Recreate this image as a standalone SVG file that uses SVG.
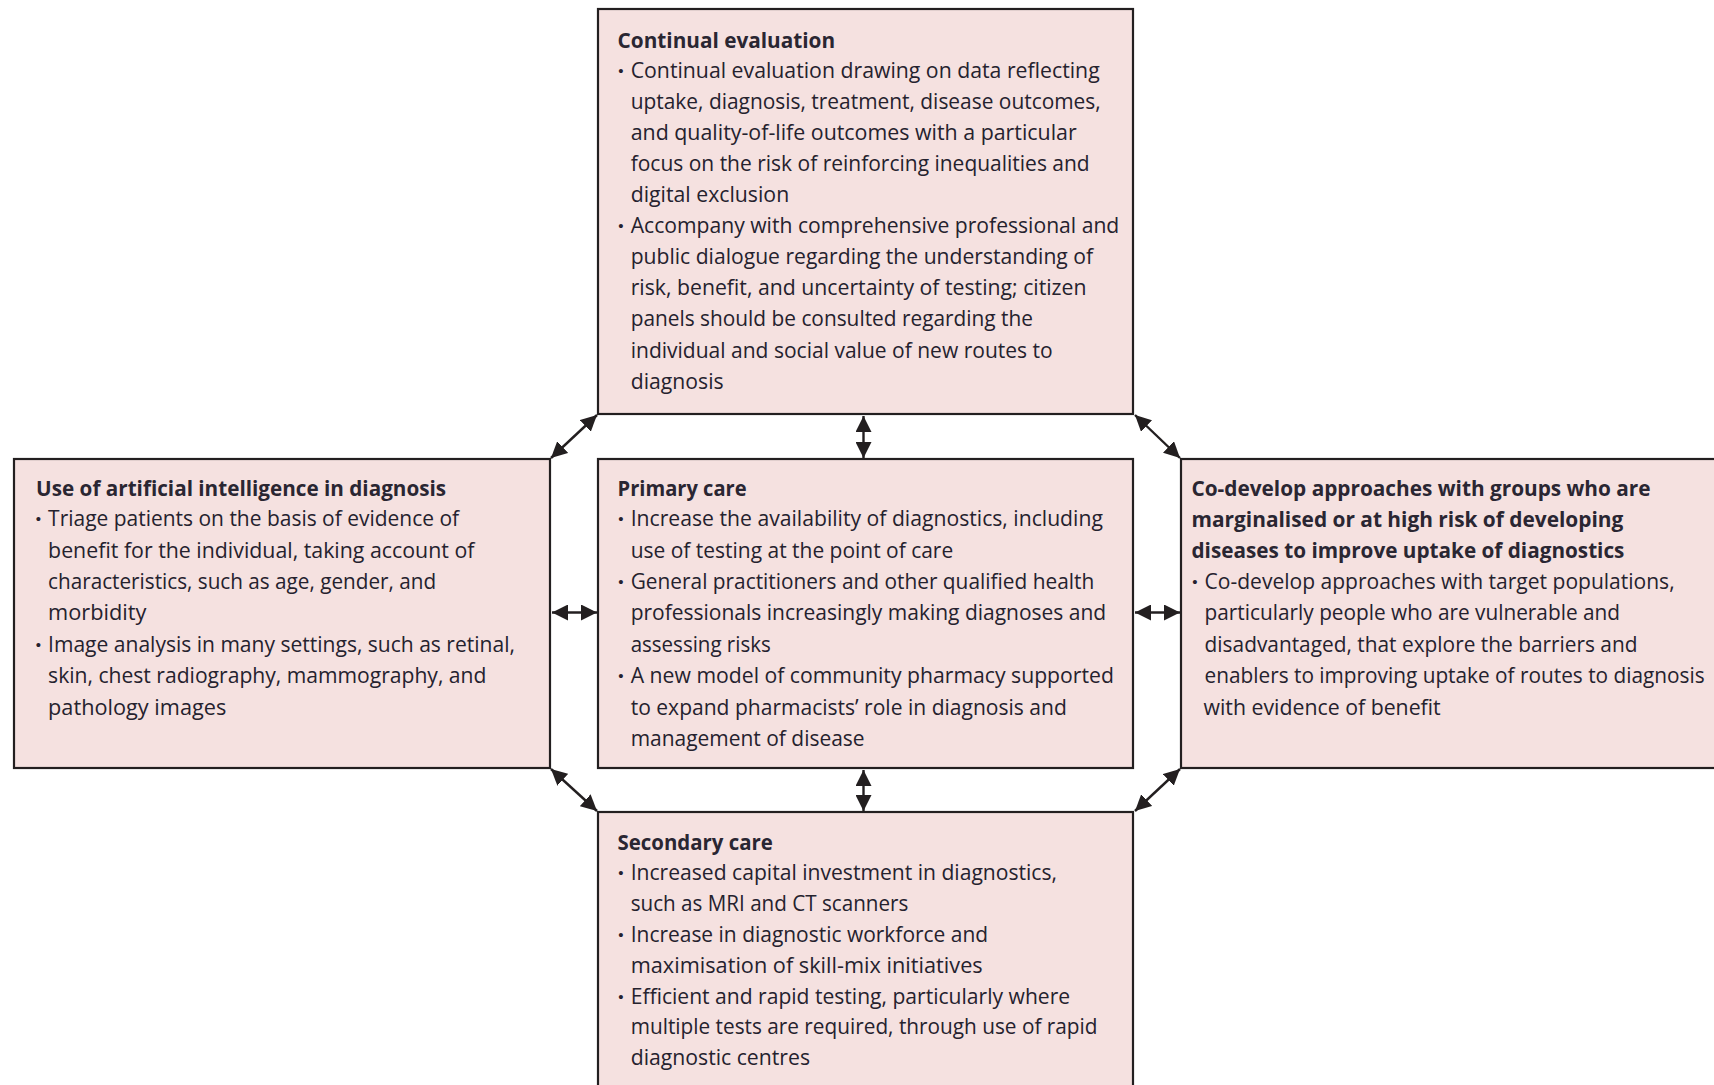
<svg xmlns="http://www.w3.org/2000/svg" width="1714" height="1085" viewBox="0 0 1714 1085">
<defs>
<style>
.box{fill:#F5E1E0;stroke:#231F20;stroke-width:2.2}
.t{font-family:"Open Sans","Noto Sans","Liberation Sans",sans-serif;font-size:22px;fill:#25222E}
.h{font-family:"Open Sans","Noto Sans","Liberation Sans",sans-serif;font-size:22px;font-weight:bold;fill:#2A2632}
.b{font-family:"Liberation Sans",sans-serif;font-size:15px;fill:#25222E;text-anchor:middle}
.c{stroke:#231F20;stroke-width:2.4;fill:none;marker-start:url(#ah);marker-end:url(#ah)}
</style>
<marker id="ah" viewBox="0 0 16 16" refX="16" refY="8" markerWidth="16" markerHeight="16" markerUnits="userSpaceOnUse" orient="auto-start-reverse">
<path d="M0,0 L16,8 L0,16 z" fill="#231F20"/>
</marker>
</defs>

<g id="connectors">
<line class="c" x1="863.5" y1="416" x2="863.5" y2="458"/>
<line class="c" x1="863.5" y1="770" x2="863.5" y2="811"/>
<line class="c" x1="552" y1="612.5" x2="597" y2="612.5"/>
<line class="c" x1="1135" y1="612.5" x2="1180" y2="612.5"/>
<line class="c" x1="597" y1="415" x2="551" y2="458"/>
<line class="c" x1="1135" y1="415" x2="1180" y2="458"/>
<line class="c" x1="551" y1="769" x2="597" y2="811"/>
<line class="c" x1="1180" y1="769" x2="1135" y2="811"/>
</g>

<g id="continual-evaluation">
<rect class="box" x="598" y="9" width="535" height="405"/>
<text class="h" x="617.6" y="47.5" textLength="217.5" lengthAdjust="spacingAndGlyphs">Continual evaluation</text>
<text class="b" x="621" y="76">•</text>
<text class="t" x="630.7" y="78.1" textLength="469" lengthAdjust="spacingAndGlyphs">Continual evaluation drawing on data reflecting</text>
<text class="t" x="630.7" y="109.1" textLength="470" lengthAdjust="spacingAndGlyphs">uptake, diagnosis, treatment, disease outcomes,</text>
<text class="t" x="630.7" y="140.2" textLength="446" lengthAdjust="spacingAndGlyphs">and quality-of-life outcomes with a particular</text>
<text class="t" x="630.7" y="171.2" textLength="459" lengthAdjust="spacingAndGlyphs">focus on the risk of reinforcing inequalities and</text>
<text class="t" x="630.7" y="202.3" textLength="158.5" lengthAdjust="spacingAndGlyphs">digital exclusion</text>
<text class="b" x="621" y="231.2">•</text>
<text class="t" x="630.7" y="233.3" textLength="488.6" lengthAdjust="spacingAndGlyphs">Accompany with comprehensive professional and</text>
<text class="t" x="630.7" y="264.3" textLength="462.4" lengthAdjust="spacingAndGlyphs">public dialogue regarding the understanding of</text>
<text class="t" x="630.7" y="295.4" textLength="455.8" lengthAdjust="spacingAndGlyphs">risk, benefit, and uncertainty of testing; citizen</text>
<text class="t" x="630.7" y="326.4" textLength="402.3" lengthAdjust="spacingAndGlyphs">panels should be consulted regarding the</text>
<text class="t" x="630.7" y="357.5" textLength="422" lengthAdjust="spacingAndGlyphs">individual and social value of new routes to</text>
<text class="t" x="630.7" y="388.5" textLength="92.9" lengthAdjust="spacingAndGlyphs">diagnosis</text>
</g>

<g id="artificial-intelligence">
<rect class="box" x="14" y="459" width="536" height="309"/>
<text class="h" x="36.1" y="495.6" textLength="410" lengthAdjust="spacingAndGlyphs">Use of artificial intelligence in diagnosis</text>
<text class="b" x="38.5" y="524.1">•</text>
<text class="t" x="48.1" y="526.2" textLength="411" lengthAdjust="spacingAndGlyphs">Triage patients on the basis of evidence of</text>
<text class="t" x="48.1" y="557.6" textLength="426.3" lengthAdjust="spacingAndGlyphs">benefit for the individual, taking account of</text>
<text class="t" x="48.1" y="589" textLength="388" lengthAdjust="spacingAndGlyphs">characteristics, such as age, gender, and</text>
<text class="t" x="48.1" y="620.4" textLength="98.4" lengthAdjust="spacingAndGlyphs">morbidity</text>
<text class="b" x="38.5" y="649.7">•</text>
<text class="t" x="48.1" y="651.8" textLength="466.8" lengthAdjust="spacingAndGlyphs">Image analysis in many settings, such as retinal,</text>
<text class="t" x="48.1" y="683.2" textLength="438.3" lengthAdjust="spacingAndGlyphs">skin, chest radiography, mammography, and</text>
<text class="t" x="48.1" y="714.6" textLength="178.2" lengthAdjust="spacingAndGlyphs">pathology images</text>
</g>

<g id="primary-care">
<rect class="box" x="598" y="459" width="535" height="309"/>
<text class="h" x="617.6" y="495.6" textLength="129" lengthAdjust="spacingAndGlyphs">Primary care</text>
<text class="b" x="621" y="524.1">•</text>
<text class="t" x="630.7" y="526.2" textLength="472.2" lengthAdjust="spacingAndGlyphs">Increase the availability of diagnostics, including</text>
<text class="t" x="630.7" y="557.6" textLength="322.5" lengthAdjust="spacingAndGlyphs">use of testing at the point of care</text>
<text class="b" x="621" y="586.9">•</text>
<text class="t" x="630.7" y="589" textLength="463.5" lengthAdjust="spacingAndGlyphs">General practitioners and other qualified health</text>
<text class="t" x="630.7" y="620.4" textLength="475.5" lengthAdjust="spacingAndGlyphs">professionals increasingly making diagnoses and</text>
<text class="t" x="630.7" y="651.8" textLength="140" lengthAdjust="spacingAndGlyphs">assessing risks</text>
<text class="b" x="621" y="681.1">•</text>
<text class="t" x="630.7" y="683.2" textLength="483.2" lengthAdjust="spacingAndGlyphs">A new model of community pharmacy supported</text>
<text class="t" x="630.7" y="714.6" textLength="436.1" lengthAdjust="spacingAndGlyphs">to expand pharmacists’ role in diagnosis and</text>
<text class="t" x="630.7" y="746" textLength="233.9" lengthAdjust="spacingAndGlyphs">management of disease</text>
</g>

<g id="co-develop">
<rect class="box" x="1181" y="459" width="560" height="309"/>
<text class="h" x="1191.5" y="495.6" textLength="459.1" lengthAdjust="spacingAndGlyphs">Co-develop approaches with groups who are</text>
<text class="h" x="1191.5" y="527" textLength="431.8" lengthAdjust="spacingAndGlyphs">marginalised or at high risk of developing</text>
<text class="h" x="1191.5" y="558" textLength="432.9" lengthAdjust="spacingAndGlyphs">diseases to improve uptake of diagnostics</text>
<text class="b" x="1195" y="586.9">•</text>
<text class="t" x="1204.6" y="589" textLength="470" lengthAdjust="spacingAndGlyphs">Co-develop approaches with target populations,</text>
<text class="t" x="1204.6" y="620.4" textLength="415.4" lengthAdjust="spacingAndGlyphs">particularly people who are vulnerable and</text>
<text class="t" x="1204.6" y="651.8" textLength="432.9" lengthAdjust="spacingAndGlyphs">disadvantaged, that explore the barriers and</text>
<text class="t" x="1204.6" y="683.2" textLength="500" lengthAdjust="spacingAndGlyphs">enablers to improving uptake of routes to diagnosis</text>
<text class="t" x="1203.5" y="714.6" textLength="237.2" lengthAdjust="spacingAndGlyphs">with evidence of benefit</text>
</g>

<g id="secondary-care">
<rect class="box" x="598" y="812" width="535" height="300"/>
<text class="h" x="617.6" y="849.8" textLength="155.2" lengthAdjust="spacingAndGlyphs">Secondary care</text>
<text class="b" x="621" y="878.3">•</text>
<text class="t" x="630.7" y="880.4" textLength="426.3" lengthAdjust="spacingAndGlyphs">Increased capital investment in diagnostics,</text>
<text class="t" x="630.7" y="911.2" textLength="277.6" lengthAdjust="spacingAndGlyphs">such as MRI and CT scanners</text>
<text class="b" x="621" y="939.9">•</text>
<text class="t" x="630.7" y="942" textLength="357.4" lengthAdjust="spacingAndGlyphs">Increase in diagnostic workforce and</text>
<text class="t" x="630.7" y="972.8" textLength="352" lengthAdjust="spacingAndGlyphs">maximisation of skill-mix initiatives</text>
<text class="b" x="621" y="1001.5">•</text>
<text class="t" x="630.7" y="1003.6" textLength="439.4" lengthAdjust="spacingAndGlyphs">Efficient and rapid testing, particularly where</text>
<text class="t" x="630.7" y="1034.4" textLength="466.8" lengthAdjust="spacingAndGlyphs">multiple tests are required, through use of rapid</text>
<text class="t" x="630.7" y="1065.2" textLength="179.3" lengthAdjust="spacingAndGlyphs">diagnostic centres</text>
</g>
</svg>
